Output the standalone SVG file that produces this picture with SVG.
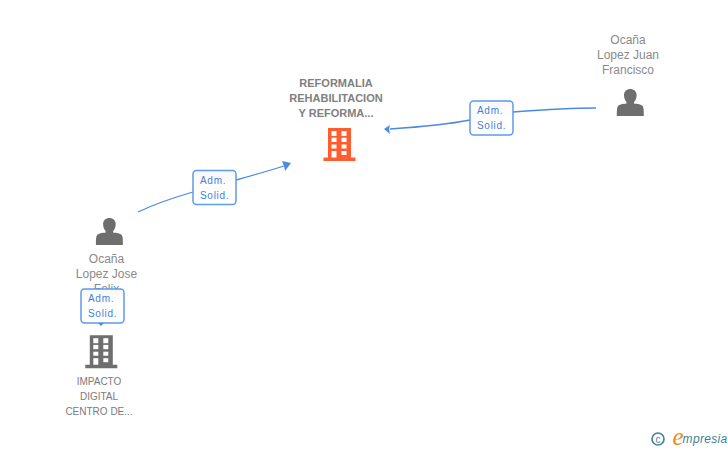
<svg xmlns="http://www.w3.org/2000/svg" width="728" height="450" viewBox="0 0 728 450">
<style>
text{font-family:"Liberation Sans",Arial,sans-serif;text-anchor:middle}
.n{font-size:12px;fill:#8a8a8a}
.t{font-size:11px;font-weight:bold;fill:#808080}
.s{font-size:10px;fill:#7a7a7a}
.l{font-size:10px;fill:#3f7fe0;letter-spacing:.7px;text-anchor:start}
.b{fill:url(#bg);stroke:#5f9bea;stroke-width:1.5}
.c{fill:none;stroke:#4a8ae6;stroke-width:1.3}
.h{fill:#4a8ae6}
.w{fill:#fff}
</style>
<defs>
<linearGradient id="bg" x1="0" y1="0" x2="0" y2="1"><stop offset="0" stop-color="#f7f7f7"/><stop offset=".4" stop-color="#fff"/></linearGradient>
<path id="person" d="M-6.300-9C-6.300-12.800-3.500-15 0-15S6.300-12.800 6.300-9C6.300-6 5.300-3.500 3.800-2V-.5C5-.1 10-.3 12.300 2 13.500 3.500 13.500 7 13.500 12H-13.500C-13.500 7-13.500 3.500-12.300 2-10-.3-5-.1-3.800-.5V-2C-5.300-3.500-6.300-6-6.300-9Z"/>
<g id="building">
<path d="M-11.500-16.500H11.500V13H16V16.500H-16V13H-11.500Z"/>
<g class="w">
<rect x="-8" y="-13.500" width="5" height="5"/><rect x="2" y="-13.500" width="5" height="5"/>
<rect x="-8" y="-6.800" width="5" height="4.300"/><rect x="2" y="-6.800" width="5" height="4.300"/>
<rect x="-8" y="0" width="5" height="4"/><rect x="2" y="0" width="5" height="4"/>
<rect x="-8" y="6.500" width="5" height="6.500"/><rect x="2" y="6.500" width="5" height="4"/>
</g>
</g>
</defs>
<g id="connectors">
<path class="c" d="M138 212C155 204 172 198 193 192"/>
<path class="c" d="M236 180C254 175 268 171 284 166"/>
<path class="h" d="M291 163L282 161L284 166L285 171Z"/>
<path class="c" d="M596 108C570 108 540 110 513 112"/>
<path class="c" d="M470 120C445 125 420 127 390 129"/>
<path class="h" d="M384 129L390 125L389 129L390 134Z"/>
</g>
<g id="node-reformalia">
<text class="t" x="336" y="87">REFORMALIA</text>
<text class="t" x="336" y="102">REHABILITACION</text>
<text class="t" x="336" y="117">Y REFORMA...</text>
<use href="#building" x="339.500" y="144.500" fill="#ff5c30"/>
</g>
<g id="node-juan">
<text class="n" x="628" y="44">Ocaña</text>
<text class="n" x="628" y="59">Lopez Juan</text>
<text class="n" x="628" y="74">Francisco</text>
<use href="#person" x="630.300" y="104" fill="#6e6e6e"/>
</g>
<g id="node-jose">
<use href="#person" x="109.400" y="233" fill="#6e6e6e"/>
<text class="n" x="106.500" y="263">Ocaña</text>
<text class="n" x="106.500" y="278">Lopez Jose</text>
<text class="n" x="106.500" y="293">Felix</text>
</g>
<g id="node-impacto">
<use href="#building" x="101.300" y="351.700" fill="#6e6e6e"/>
<text class="s" x="99" y="385">IMPACTO</text>
<text class="s" x="99" y="400">DIGITAL</text>
<text class="s" x="99" y="415">CENTRO DE...</text>
</g>
<g id="label-1">
<rect class="b" x="193" y="170.500" width="43" height="34" rx="3.500"/>
<text class="l" x="200" y="184">Adm.</text><text class="l" x="200" y="199">Solid.</text>
</g>
<g id="label-2">
<rect class="b" x="470" y="101" width="43" height="34" rx="3.500"/>
<text class="l" x="477" y="114">Adm.</text><text class="l" x="477" y="129">Solid.</text>
</g>
<g id="label-3">
<rect class="b" x="81" y="289" width="43" height="34" rx="3.500"/>
<text class="l" x="88" y="302">Adm.</text><text class="l" x="88" y="317">Solid.</text>
<path class="h" d="M98 323H104L101 326Z"/>
</g>
<g id="watermark">
<circle cx="658" cy="439" r="6" fill="none" stroke="#4a8296" stroke-width="1.700"/>
<text x="658" y="442.500" style="font-size:10px;fill:#4a8296">c</text>
<text x="678" y="445" style="font-family:'Liberation Serif',serif;font-style:italic;font-size:25px;fill:#f08a1d">e</text>
<text x="705" y="443" style="font-style:italic;font-size:12px;fill:#3f7f92;letter-spacing:.3px">mpresia</text>
</g>
</svg>
